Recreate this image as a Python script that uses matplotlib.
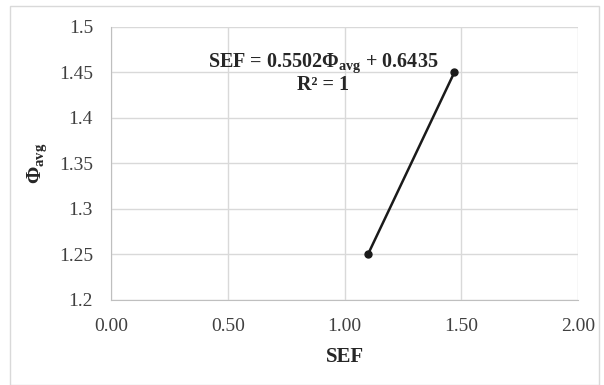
import matplotlib.pyplot as plt

plt.rcParams['font.family'] = ['Liberation Serif', 'DejaVu Serif']
plt.rcParams['mathtext.fontset'] = 'custom'
plt.rcParams['mathtext.rm'] = 'Liberation Serif'
plt.rcParams['mathtext.bf'] = 'Liberation Serif:bold'

sef = [1.10, 1.47]
phi_avg = [1.25, 1.45]
x_ticks = [0.0, 0.5, 1.0, 1.5, 2.0]
y_ticks = [1.2, 1.25, 1.3, 1.35, 1.4, 1.45, 1.5]
y_tick_labels = ['1.2', '1.25', '1.3', '1.35', '1.4', '1.45', '1.5']

fig = plt.figure(figsize=(6.04, 3.85), dpi=100)
ax = fig.add_axes([0.184, 0.221, 0.773, 0.709])

# light frame round the whole chart area
fig.patches.append(plt.Rectangle((0.017, 0.0), 0.975, 0.984, transform=fig.transFigure,
                                 fill=False, edgecolor='#d9d9d9', linewidth=1))

ax.plot(sef, phi_avg, color='#1a1a1a', linewidth=1.8, marker='o', markersize=5,
        markerfacecolor='#1a1a1a', zorder=3)

ax.set_xlim(0, 2)
ax.set_ylim(1.2, 1.5)
ax.set_xticks(x_ticks)
ax.set_xticklabels([f'{v:.2f}' for v in x_ticks])
ax.set_yticks(y_ticks)
ax.set_yticklabels(y_tick_labels)
ax.tick_params(length=0, labelsize=14, colors='#404040')
ax.tick_params(axis='y', pad=13)
ax.tick_params(axis='x', pad=13)
ax.grid(True, color='#d9d9d9', linewidth=1)
ax.set_axisbelow(True)
for side in ['top', 'right']:
    ax.spines[side].set_visible(False)
for side in ['left', 'bottom']:
    ax.spines[side].set_color('#bfbfbf')

ax.set_xlabel('SEF', fontsize=15, fontweight='bold', color='#262626', labelpad=9)
ax.set_ylabel(r'$\mathbf{\Phi_{avg}}$', fontsize=15, color='#262626', labelpad=7)

ax.text(0.908, 1.4495, r'SEF = 0.5502$\mathbf{\Phi_{avg}}$ + 0.6435' + '\nR² = 1',
        ha='center', va='center', fontsize=14.5, fontweight='bold', color='#262626',
        linespacing=1.0)

plt.savefig('out.png', dpi=100)
